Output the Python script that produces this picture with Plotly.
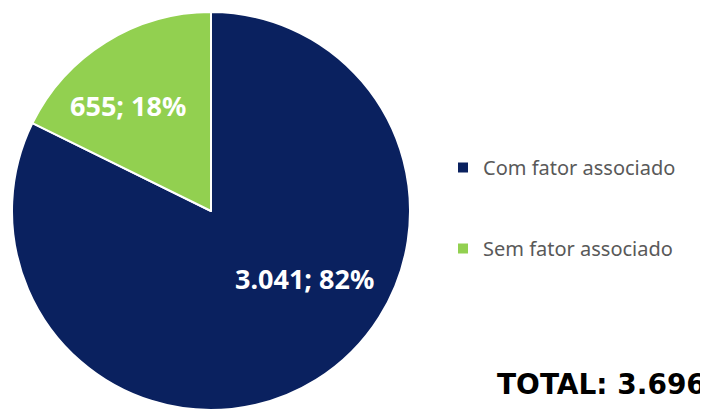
import plotly.graph_objects as go

categories = ["Com fator associado", "Sem fator associado"]
values = [3041, 655]
value_labels = ["3.041", "655"]
total_label = "3.696"
colors = ["#0a215f", "#92d050"]

pct = [round(v * 100 / sum(values)) for v in values]

W, H = 700, 402  # page body has an 8px margin

fig = go.Figure()
fig.add_trace(go.Pie(
    labels=[c + "<br> <br> " for c in categories],
    values=values,
    sort=False,
    direction="clockwise",
    rotation=0,
    marker=dict(colors=colors, line=dict(color="white", width=2)),
    textinfo="none",
    hoverinfo="label+value+percent",
    domain=dict(x=[0, 406 / W], y=[0, 1]),
    showlegend=True,
))

T = 4
PH = H - T

# slice labels (figure pixel positions)
label_pos = [(296, 270), (120, 97)]
for (px, py), v, p in zip(label_pos, value_labels, pct):
    fig.add_annotation(
        x=px / W, y=1 - (py - T) / PH, xref="paper", yref="paper",
        text=f"<b>{v}; {p}%</b>", showarrow=False,
        font=dict(family="Noto Sans", size=27, color="white"),
        xanchor="center", yanchor="middle",
    )

fig.add_annotation(
    x=700 / W, y=1 - (376 - T) / PH, xref="paper", yref="paper",
    text=f"<b>TOTAL: {total_label}</b>", showarrow=False,
    font=dict(family="DejaVu Sans", size=28, color="black"),
    xanchor="right", yanchor="middle",
)

fig.update_layout(
    width=W, height=H,
    margin=dict(l=0, r=0, t=T, b=0),
    paper_bgcolor="white", plot_bgcolor="white",
    legend=dict(
        x=435 / W, y=1 - (140 - T) / PH, xanchor="left", yanchor="top",
        traceorder="normal", valign="top",
        font=dict(family="Noto Sans", size=20, color="#595959"),
        itemwidth=30,
    ),
)

fig.write_html("out.html")
